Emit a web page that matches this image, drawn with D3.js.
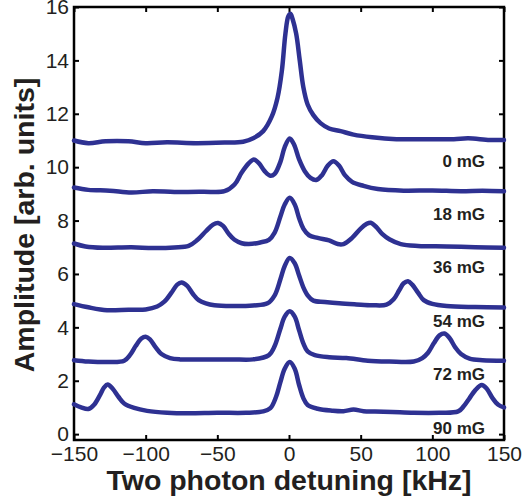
<!DOCTYPE html>
<html>
<head>
<meta charset="utf-8">
<script src="https://cdn.jsdelivr.net/npm/d3@7"></script>
<style>
  body { margin: 0; background: #fff; }
  svg { font-family: "Liberation Sans", Arial, Helvetica, sans-serif; }
</style>
</head>
<body>
<svg id="chart" width="526" height="502"></svg>
<script>
// traces, [detuning kHz, amplitude]
const trace0mG = [[-150,11.0],[-140,10.9],[-128,10.97],[-112,10.97],[-100,10.9],[-85,10.93],[-65,10.9],[-45,10.92],[-32,10.95],[-25,11.08],[-18,11.35],[-12,11.9],[-8,12.6],[-5,13.6],[-2.5,15.0],[-0.5,15.65],[1,15.75],[2.5,15.55],[5,15.0],[7.5,14.0],[10,13.0],[13,12.35],[17,11.95],[22,11.65],[28,11.45],[36,11.35],[45,11.22],[58,11.12],[75,11.05],[95,11.05],[115,11.05],[125,11.08],[140,11.02],[150,11.02]];
const trace18mG = [[-150,9.24],[-140,9.15],[-125,9.12],[-110,9.05],[-95,9.1],[-80,9.07],[-60,9.08],[-45,9.1],[-38,9.35],[-33,9.8],[-28,10.15],[-24.5,10.29],[-21,10.15],[-17,9.85],[-13,9.68],[-10,9.75],[-6,10.2],[-3,10.75],[0.5,11.07],[3.5,10.85],[7,10.3],[11,9.85],[15,9.6],[19,9.52],[23,9.7],[27,10.05],[31,10.22],[35,10.05],[39,9.7],[44,9.45],[52,9.3],[62,9.18],[80,9.12],[100,9.13],[120,9.1],[135,9.12],[150,9.1]];
const trace36mG = [[-150,7.14],[-142,7.03],[-130,6.98],[-110,7.0],[-95,6.97],[-80,6.99],[-70,7.05],[-64,7.27],[-58,7.6],[-53,7.85],[-49.5,7.91],[-46,7.8],[-42,7.5],[-38,7.28],[-33,7.15],[-28,7.12],[-20,7.18],[-14,7.28],[-10,7.55],[-6,8.15],[-3,8.6],[0.5,8.85],[4,8.6],[7,8.1],[10,7.7],[14,7.45],[20,7.35],[28,7.26],[34,7.12],[38,7.12],[44,7.35],[50,7.7],[54,7.87],[57,7.92],[61,7.75],[65,7.5],[70,7.3],[78,7.12],[90,7.05],[110,7.03],[130,7.0],[150,6.98]];
const trace54mG = [[-150,4.87],[-140,4.75],[-127,4.64],[-112,4.66],[-100,4.67],[-92,4.78],[-87,4.96],[-82,5.3],[-78,5.6],[-75,5.68],[-71,5.55],[-67,5.25],[-63,5.02],[-58,4.9],[-52,4.83],[-40,4.8],[-25,4.82],[-15,4.9],[-10,5.2],[-6,5.8],[-3,6.3],[0.5,6.6],[4,6.4],[7,5.95],[10,5.5],[13,5.2],[17,5.0],[25,4.95],[35,4.9],[47,4.86],[58,4.83],[68,4.85],[73,5.05],[77,5.4],[80,5.65],[83,5.73],[86,5.6],[90,5.3],[94,5.02],[100,4.88],[110,4.8],[130,4.76],[150,4.74]];
const trace72mG = [[-150,2.77],[-140,2.72],[-125,2.7],[-115,2.75],[-111,2.96],[-107,3.3],[-103,3.58],[-100,3.65],[-97,3.55],[-93,3.25],[-89,3.0],[-83,2.85],[-76,2.8],[-60,2.8],[-40,2.8],[-25,2.8],[-14,2.96],[-10,3.3],[-6,3.95],[-3,4.4],[0.5,4.6],[4,4.4],[7,3.9],[10,3.4],[13,3.1],[18,2.96],[28,2.88],[40,2.85],[55,2.75],[70,2.72],[87,2.72],[93,2.85],[97,3.05],[101,3.4],[105,3.7],[108.5,3.77],[112,3.6],[116,3.25],[120,3.0],[126,2.83],[135,2.77],[150,2.75]];
const trace90mG = [[-150,1.12],[-145,1.0],[-140,0.94],[-136,1.1],[-132,1.45],[-129,1.75],[-126.5,1.86],[-123,1.7],[-119,1.4],[-115,1.15],[-108,0.98],[-99,0.87],[-85,0.8],[-70,0.78],[-50,0.8],[-30,0.8],[-18,0.85],[-13,0.97],[-9,1.4],[-6,1.95],[-3,2.45],[0.5,2.7],[4,2.45],[7,1.85],[10,1.35],[13,1.09],[20,0.95],[30,0.88],[38,0.86],[45,0.92],[52,0.86],[60,0.85],[72,0.83],[87,0.8],[105,0.8],[118,0.85],[122,1.05],[126,1.35],[130,1.65],[134.5,1.84],[138,1.7],[142,1.35],[146,1.1],[150,1.0]];

const traces = [trace0mG, trace18mG, trace36mG, trace54mG, trace72mG, trace90mG];
const fieldLabels = ['0 mG', '18 mG', '36 mG', '54 mG', '72 mG', '90 mG'];
const labelLevels = [10, 8, 6, 4, 2, 0];
const xTicks = [-150, -100, -50, 0, 50, 100, 150];
const yTicks = [0, 2, 4, 6, 8, 10, 12, 14, 16];

const svg = d3.select('#chart');
const plotL = 74, plotR = 504, plotT = 7, plotB = 440;

const x = d3.scaleLinear().domain([-150, 150]).range([plotL, plotR]);
const y = d3.scaleLinear().domain([-0.22, 16]).range([plotB, plotT]);

// ticks on all four sides, pointing in
const axisStyle = g => {
    g.select('.domain').remove();
    g.selectAll('line').attr('stroke', '#000').attr('stroke-width', 2);
    g.selectAll('text').attr('fill', '#231f20').style('font-size', '21px');
};

svg.append('g')
    .attr('transform', `translate(0,${plotB})`)
    .call(d3.axisBottom(x).tickValues(xTicks).tickSizeInner(-5).tickSizeOuter(0).tickPadding(6))
    .call(axisStyle);

svg.append('g')
    .attr('transform', `translate(0,${plotT})`)
    .call(d3.axisTop(x).tickValues(xTicks).tickSizeInner(-5).tickSizeOuter(0).tickFormat(''))
    .call(axisStyle);

svg.append('g')
    .attr('transform', `translate(${plotL},0)`)
    .call(d3.axisLeft(y).tickValues(yTicks).tickSizeInner(-5).tickSizeOuter(0).tickPadding(5))
    .call(axisStyle);

svg.append('g')
    .attr('transform', `translate(${plotR},0)`)
    .call(d3.axisRight(y).tickValues(yTicks).tickSizeInner(-5).tickSizeOuter(0).tickFormat(''))
    .call(axisStyle);

svg.append('rect')
    .attr('x', plotL)
    .attr('y', plotT)
    .attr('width', plotR - plotL)
    .attr('height', plotB - plotT)
    .attr('fill', 'none')
    .attr('stroke', '#000')
    .attr('stroke-width', 2.5);

const line = d3.line()
    .x(d => x(d[0]))
    .y(d => y(d[1]))
    .curve(d3.curveCatmullRom.alpha(0.5));

svg.append('g')
    .selectAll('path')
    .data(traces)
    .enter()
    .append('path')
        .attr('d', line)
        .attr('fill', 'none')
        .attr('stroke', '#2e3192')
        .attr('stroke-width', 4.5)
        .attr('stroke-linejoin', 'round')
        .attr('stroke-linecap', 'round');

svg.append('g')
    .selectAll('text')
    .data(fieldLabels)
    .enter()
    .append('text')
        .attr('x', 485)
        .attr('y', (d, i) => y(labelLevels[i]) - 0.5)
        .attr('text-anchor', 'end')
        .attr('fill', '#231f20')
        .style('font-size', '17px')
        .style('font-weight', 'bold')
        .text(d => d);

svg.append('text')
    .attr('x', (plotL + plotR) / 2)
    .attr('y', 490)
    .attr('text-anchor', 'middle')
    .attr('fill', '#231f20')
    .style('font-size', '28.5px')
    .style('font-weight', 'bold')
    .text('Two photon detuning [kHz]');

svg.append('text')
    .attr('transform', 'translate(34,225) rotate(-90)')
    .attr('text-anchor', 'middle')
    .attr('fill', '#231f20')
    .style('font-size', '28.5px')
    .style('font-weight', 'bold')
    .text('Amplitude [arb. units]');
</script>
</body>
</html>
